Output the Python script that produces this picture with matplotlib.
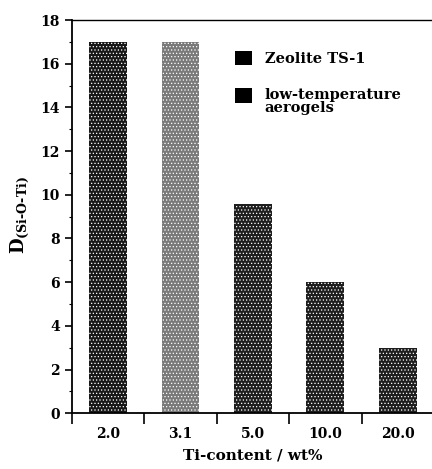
import numpy as np
import matplotlib.pyplot as plt
from matplotlib.patches import Patch, Rectangle
from matplotlib.legend_handler import HandlerPatch

# 数据
ti_labels = ['2.0', '3.1', '5.0', '10.0', '20.0']
d_values = [17.0, 17.0, 9.6, 6.0, 3.0]
legend_labels = ['Zeolite TS-1', 'low-temperature\naerogels']

plt.rcParams['font.family'] = 'DejaVu Serif'
plt.rcParams['font.weight'] = 'bold'
plt.rcParams['mathtext.fontset'] = 'dejavuserif'
plt.rcParams['hatch.color'] = 'white'
plt.rcParams['hatch.linewidth'] = 0.5

fig = plt.figure(figsize=(4.32, 4.69), dpi=100)
ax = fig.add_axes([71.7 / 432, 1 - 413.3 / 469, (434 - 71.7) / 432, (413.3 - 20) / 469])

x = np.arange(len(ti_labels))
colors = ['#181818', '#7a7a7a', '#1e1e1e', '#1e1e1e', '#1e1e1e']
ax.bar(x, d_values, width=0.52, color=colors, hatch='.....', linewidth=0)

ax.set_xlim(-0.5, 4.5)
ax.set_ylim(0, 18)
ax.set_yticks(np.arange(0, 19, 2))
ax.set_yticks(np.arange(1, 18, 2), minor=True)
ax.set_xticks(np.arange(-0.5, 5, 1))
ax.set_xticklabels([])
ax.set_xticks(x, minor=True)
ax.set_xticklabels(ti_labels, minor=True, fontsize=10, fontweight='bold')
ax.tick_params(axis='x', which='major', direction='out', length=8, width=1.2)
ax.tick_params(axis='x', which='minor', length=0, pad=10)
ax.tick_params(axis='y', which='major', direction='out', length=5, width=1.2, labelsize=10)
ax.tick_params(axis='y', which='minor', direction='out', length=2.5, width=0.8)
for lab in ax.get_yticklabels():
    lab.set_fontweight('bold')
ax.spines['right'].set_visible(False)
for s in ['left', 'bottom']:
    ax.spines[s].set_linewidth(1.3)
ax.spines['top'].set_linewidth(1.0)

ax.set_xlabel('Ti-content / wt%', fontsize=11, fontweight='bold', labelpad=5)
fig.text(20 / 432, 1 - 215 / 469, '$\\mathbf{D}_{\\mathbf{(Si\u2010O\u2010Ti)}}$',
         rotation=90, fontsize=13, ha='center', va='center')


# 图例方块与第一行文字对齐
class TopSquare(HandlerPatch):
    def __init__(self, shift):
        super().__init__()
        self.shift = shift

    def create_artists(self, legend, orig_handle, xdescent, ydescent,
                       width, height, fontsize, trans):
        p = Rectangle((-xdescent, -ydescent + self.shift * fontsize), width, height,
                      facecolor=orig_handle.get_facecolor(), linewidth=0, transform=trans)
        return [p]


h1 = Patch(facecolor='black')
h2 = Patch(facecolor='black')
leg = ax.legend([h1, h2], legend_labels, loc='upper left', bbox_to_anchor=(0.434, 0.937),
                frameon=False, handlelength=1.15, handleheight=1.15,
                labelspacing=1.5, handletextpad=0.9, borderaxespad=0,
                prop={'weight': 'bold', 'size': 10.5},
                handler_map={h1: TopSquare(0.0), h2: TopSquare(0.45)})
for t in leg.get_texts():
    t.set_linespacing(0.95)

plt.savefig('out.png', dpi=100)
